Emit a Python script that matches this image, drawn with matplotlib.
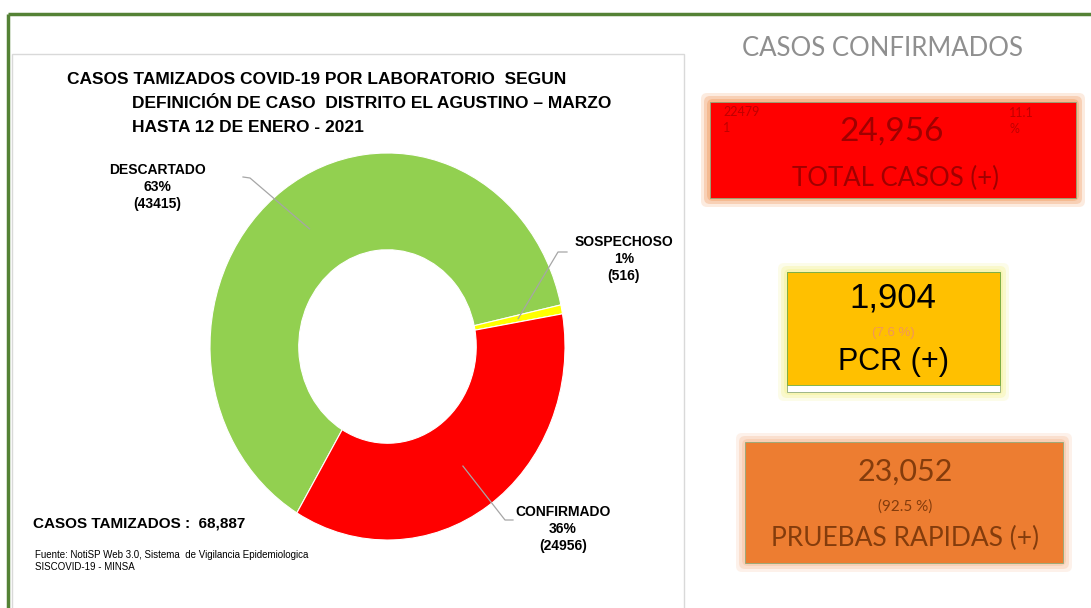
import numpy as np
import matplotlib.pyplot as plt
from matplotlib.patches import Rectangle, FancyBboxPatch

W, H = 1091, 608

# pie data
labels = ['DESCARTADO', 'SOSPECHOSO', 'CONFIRMADO']
values = [43415, 516, 24956]
colors = ['#92d050', '#ffff00', '#ff0000']
total_tamizados = 68887

# right panel data
total_pos = 24956
pcr_pos = 1904
pcr_pct = 7.6
rapid_pos = 23052
rapid_pct = 92.5
side_note_left = '22479\n1'
side_note_right = '11.1\n%'

title_lines = ['CASOS TAMIZADOS COVID-19 POR LABORATORIO  SEGUN',
               'DEFINICIÓN DE CASO  DISTRITO EL AGUSTINO – MARZO',
               'HASTA 12 DE ENERO - 2021']

narrow = ['Liberation Sans Narrow', 'Liberation Sans', 'DejaVu Sans']
arial = ['Liberation Sans', 'DejaVu Sans']
calib = ['Lato', 'Open Sans', 'DejaVu Sans']

fig = plt.figure(figsize=(W / 100, H / 100), dpi=100)
fig.patch.set_facecolor('white')

# background layer in pixel coords
bg = fig.add_axes([0, 0, 1, 1], zorder=0)
bg.set_xlim(0, W)
bg.set_ylim(H, 0)
bg.axis('off')

# green frame
bg.plot([8, W], [14, 14], color='#548235', lw=2.5, solid_capstyle='butt')
bg.plot([8, 8], [14, H], color='#548235', lw=2.5, solid_capstyle='butt')
# left panel
bg.add_patch(Rectangle((12, 54), 672, 560, fc='white', ec='#d9d9d9', lw=1))


def glow_box(x0, y0, x1, y1, fc, glow):
    for pad, a in [(9, 0.25), (6, 0.45), (3, 0.7)]:
        bg.add_patch(FancyBboxPatch((x0, y0), x1 - x0, y1 - y0,
                                    boxstyle='round,pad=%d,rounding_size=6' % pad,
                                    fc=glow, ec='none', alpha=a))
    bg.add_patch(Rectangle((x0, y0), x1 - x0, y1 - y0, fc=fc, ec='#8faa7a', lw=0.6))


glow_box(710, 102, 1076, 198, '#ff0000', '#f4b183')
glow_box(787, 272, 1000, 392, 'white', '#f7f5a8')
bg.add_patch(Rectangle((787, 272), 213, 113, fc='#ffc000', ec='#70ad47', lw=0.6))
glow_box(745, 442, 1063, 563, '#ed7d31', '#f8cbad')

# donut
cx, cy, rx, ry = 387.5, 346.5, 177.5, 193.5
pax = fig.add_axes([(cx - rx) / W, (H - cy - ry) / H, 2 * rx / W, 2 * ry / H], zorder=1)
wedges, _ = pax.pie(values, colors=colors, startangle=239.3, counterclock=False,
                    radius=1, wedgeprops=dict(width=0.5, edgecolor='white', linewidth=0.8))
pax.set_aspect('auto')
pax.set_xlim(-1, 1)
pax.set_ylim(-1, 1)
pax.axis('off')

# top overlay for text and leaders
ov = fig.add_axes([0, 0, 1, 1], zorder=2)
ov.set_xlim(0, W)
ov.set_ylim(H, 0)
ov.axis('off')
ov.patch.set_alpha(0)

pcts = [v / sum(values) * 100 for v in values]
label_pos = [(157, 187), (624, 259), (563, 529)]
elbows = [[(250, 178), (243, 177)], [(558, 252), (567, 252)], [(505, 520), (513, 520)]]
for w, lab, p, v, (lx, ly), elb in zip(wedges, labels, pcts, values, label_pos, elbows):
    th = np.deg2rad((w.theta1 + w.theta2) / 2)
    ax_x = cx + rx * 0.75 * np.cos(th)
    ax_y = cy - ry * 0.75 * np.sin(th)
    xs = [ax_x] + [e[0] for e in elb]
    ys = [ax_y] + [e[1] for e in elb]
    ov.plot(xs, ys, color='#a6a6a6', lw=0.9)
    ov.text(lx, ly, '%s\n%d%%\n(%d)' % (lab, round(p), v), ha='center', va='center',
            fontsize=10, fontweight='bold', family=narrow, linespacing=1.3)

for i, (line, x) in enumerate(zip(title_lines, [67, 132, 132])):
    ov.text(x, 80 + 23.5 * i, line, ha='left', va='center', fontsize=12.5,
            fontweight='bold', family=narrow)

ov.text(33, 524, 'CASOS TAMIZADOS :  {:,}'.format(total_tamizados), ha='left', va='center',
        fontsize=11, fontweight='bold', family=narrow)
ov.text(35, 561, 'Fuente: NotiSP Web 3.0, Sistema  de Vigilancia Epidemiologica\nSISCOVID-19 - MINSA',
        ha='left', va='center', fontsize=7, family=narrow, linespacing=1.2)

# right panel
ov.text(883, 48, 'CASOS CONFIRMADOS', ha='center', va='center', fontsize=18.5,
        color='#8f8f8f', family=calib)

ov.text(892, 132, '{:,}'.format(total_pos), ha='center', va='center', fontsize=24,
        color='#a00000', family=calib)
ov.text(896, 178, 'TOTAL CASOS (+)', ha='center', va='center', fontsize=18.5,
        color='#a00000', family=calib)
ov.text(723, 120, side_note_left, ha='left', va='center', fontsize=9, color='#c00000',
        family=calib, linespacing=1.4)
ov.text(1009, 121, side_note_right, ha='left', va='center', fontsize=9, color='#c00000',
        family=calib, linespacing=1.4)

ov.text(893, 298, '{:,}'.format(pcr_pos), ha='center', va='center', fontsize=25,
        color='black', family=arial)
ov.text(893, 333, '(%.1f %%)' % pcr_pct, ha='center', va='center', fontsize=9.5,
        color='#f0965a', family=arial)
ov.text(893, 362, 'PCR (+)', ha='center', va='center', fontsize=22,
        color='black', family=arial)

ov.text(905, 472, '{:,}'.format(rapid_pos), ha='center', va='center', fontsize=22,
        color='#843c0c', family=calib)
ov.text(905, 507, '(%.1f %%)' % rapid_pct, ha='center', va='center', fontsize=11,
        color='#843c0c', family=calib)
ov.text(905, 538, 'PRUEBAS RAPIDAS (+)', ha='center', va='center', fontsize=19,
        color='#843c0c', family=calib)

fig.savefig('out.png', dpi=100)
